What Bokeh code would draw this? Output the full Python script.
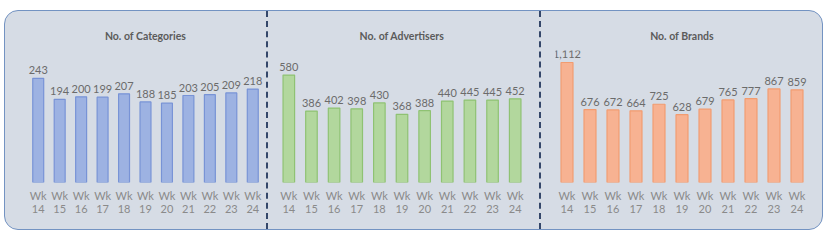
from bokeh.plotting import figure
from bokeh.layouts import row
from bokeh.models import ColumnDataSource, LabelSet, Title
from bokeh.embed import file_html
from bokeh.resources import INLINE
from bokeh.core.properties import value

weeks = ["Wk\n14", "Wk\n15", "Wk\n16", "Wk\n17", "Wk\n18", "Wk\n19",
         "Wk\n20", "Wk\n21", "Wk\n22", "Wk\n23", "Wk\n24"]
categories = [243, 194, 200, 199, 207, 188, 185, 203, 205, 209, 218]
advertisers = [580, 386, 402, 398, 430, 368, 388, 440, 445, 445, 452]
brands = [1112, 676, 672, 664, 725, 628, 679, 765, 777, 867, 859]
titles = ["No. of Categories", "No. of Advertisers", "No. of Brands"]

FONT = "Lato"


def make(title, vals, ymax, width, bl, br, fill, line, bw, styles=None):
    p = figure(x_range=weeks, y_range=(0, ymax), width=width, height=218,
               output_backend="svg", toolbar_location=None,
               min_border_left=bl, min_border_right=br,
               min_border_top=39, min_border_bottom=47,
               background_fill_alpha=0, border_fill_alpha=0,
               outline_line_color=None)
    if styles:
        p.styles = styles
    src = ColumnDataSource(dict(x=weeks, y=vals, t=[f"{v:,}" for v in vals]))
    p.vbar(x="x", top="y", width=bw, source=src, fill_color=fill,
           line_color=line, line_width=1.2)
    p.add_layout(LabelSet(x="x", y="y", text="t", source=src, y_offset=4,
                          text_align="center", text_baseline="bottom",
                          text_font=value(FONT), text_font_size="11px",
                          text_color="#6b6b6b"))
    spacer = Title(text=" ", text_font_size="2px", standoff=0)
    p.add_layout(spacer, "above")
    t = Title(text=title, align="center", text_font=FONT,
              text_font_size="10.5px", text_font_style="bold",
              text_color="#5b5b5b")
    p.add_layout(t, "above")
    p.yaxis.visible = False
    p.xgrid.grid_line_color = None
    p.ygrid.grid_line_color = None
    ax = p.xaxis[0]
    ax.axis_line_color = None
    ax.major_tick_line_color = None
    ax.minor_tick_line_color = None
    ax.major_label_text_font = FONT
    ax.major_label_text_font_size = "11px"
    ax.major_label_text_color = "#8a8a8a"
    ax.major_label_text_line_height = 1.0
    ax.major_label_standoff = 0
    p.x_range.range_padding = 0
    return p


sep = {"border-right": "2px dashed #34476a"}
p1 = make(titles[0], categories, 308, 263, 22, 5, "#9db2e2", "#7893d6", 0.51, sep)
p2 = make(titles[1], advertisers, 713, 273, 9, 15, "#b2d79d", "#8fc273", 0.51, sep)
p3 = make(titles[2], brands, 1223, 281, 14, 14, "#f7b292", "#f29c70", 0.52)

layout = row(p1, p2, p3)
layout.margin = (10, 0, 0, 4)
layout.styles = {"background-color": "#d6dce5", "border": "1px solid #7393c2",
                 "border-radius": "14px"}

open("out.html", "w").write(file_html(layout, INLINE))
